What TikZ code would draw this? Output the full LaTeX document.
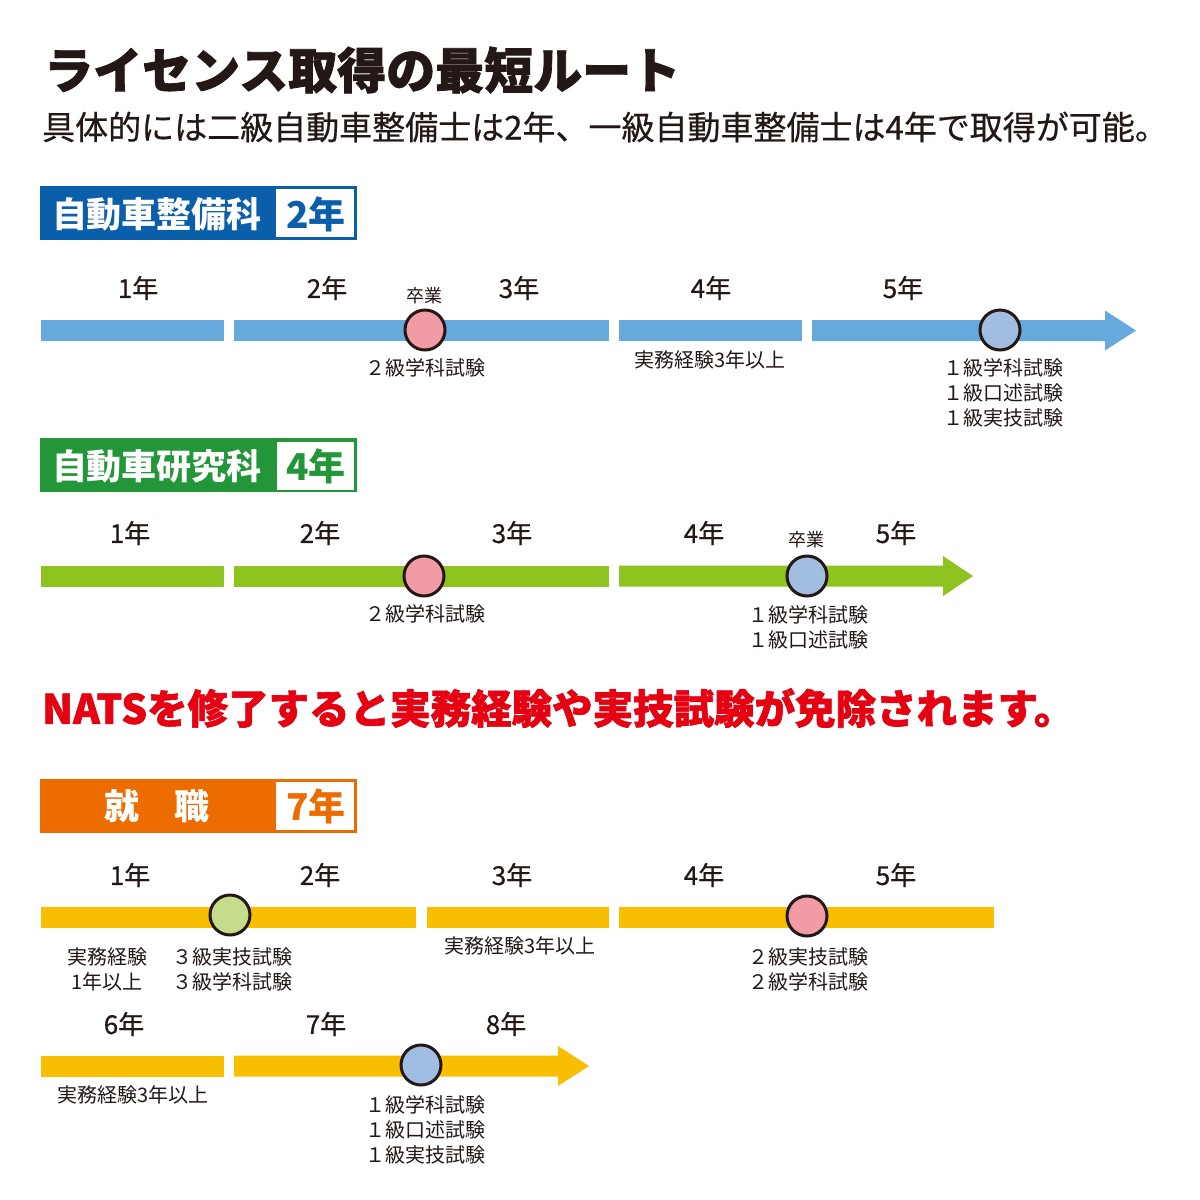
\documentclass[tikz,border=0pt]{standalone}
\usepackage{fontspec}
\setmainfont{Noto Sans CJK JP}
\newfontfamily\heavyfont{Noto Sans CJK JP}[BoldFeatures={FakeBold=1.6}]
\newfontfamily\medfont{Noto Sans CJK JP}[FakeBold=0.5]
\definecolor{ink}{HTML}{231815}
\definecolor{hblue}{HTML}{0B5EAA}
\definecolor{barblue}{HTML}{65A9DD}
\definecolor{hgreen}{HTML}{229638}
\definecolor{bargreen}{HTML}{8FC31F}
\definecolor{horange}{HTML}{ED6C00}
\definecolor{baryellow}{HTML}{F8BF00}
\definecolor{cpink}{HTML}{F19CA5}
\definecolor{clblue}{HTML}{A2BDE2}
\definecolor{clgreen}{HTML}{C5DD8A}
\definecolor{cred}{HTML}{E50012}
\newcommand\mybar[4]{\fill[#1] (#2,#4-10.5) rectangle (#3,#4+10.5);}
\newcommand\myarrow[5]{\fill[#1] (#2,#5-10.5) -- (#3,#5-10.5) -- (#3,#5-20) -- (#4,#5) -- (#3,#5+20) -- (#3,#5+10.5) -- (#2,#5+10.5) -- cycle;}
\begin{document}
\begin{tikzpicture}[x=1pt,y=-1pt,
 every node/.style={inner sep=0pt, text=ink},
 yr/.style={font=\medfont\fontsize{26}{26}\selectfont},
 lbl/.style={font=\fontsize{20}{25}\selectfont, align=center},
 grad/.style={font=\fontsize{18}{18}\selectfont},
 exam/.style={circle, draw=ink, line width=3pt, minimum size=40pt},
 hdr/.style={text=white, font=\fontsize{35}{35}\selectfont\bfseries},
 hyr/.style={font=\fontsize{37}{37}\selectfont\bfseries},
]
\useasboundingbox (0,0) rectangle (1200,1200);
\fill[white] (0,0) rectangle (1200,1200);

% titles
\node[anchor=west, font=\heavyfont\bfseries\fontsize{49}{49}\selectfont] (title) at (44,70) {ライセンス取得の最短ルート};
\node[anchor=west, font=\medfont\fontsize{33}{33}\selectfont] (sub) at (42,127) {具体的には二級自動車整備士は2年、一級自動車整備士は4年で取得が可能。};

% ===== section 1: blue =====
\fill[hblue] (40,186) rectangle (357,240);
\fill[white] (276,189) rectangle (354,237);
\node[hdr] (h1) at (157,214) {自動車整備科};
\node[hyr, text=hblue] (h1y) at (316,214) {2年};

\mybar{barblue}{41}{224}{330.5}
\mybar{barblue}{234}{609}{330.5}
\mybar{barblue}{619}{802}{330.5}
\myarrow{barblue}{812}{1105}{1136}{330.5}
\node[exam, fill=cpink] (b2) at (425,330) {};
\node[exam, fill=clblue] (b1) at (1000,330) {};
\node[yr] (by1) at (138,288) {1年};
\node[yr] (by2) at (327,288) {2年};
\node[yr] (by3) at (519,288) {3年};
\node[yr] (by4) at (711,288) {4年};
\node[yr] (by5) at (903,288) {5年};
\node[grad] (bg) at (424,296) {卒業};
\node[lbl] (bl1) at (425,368) {２級学科試験};
\node[lbl] (bl2) at (710,360) {実務経験3年以上};
\node[lbl] (bl3) at (1003,393) {１級学科試験\\１級口述試験\\１級実技試験};

% ===== section 2: green =====
\fill[hgreen] (40,438) rectangle (357,492);
\fill[white] (277,442) rectangle (354,490);
\node[hdr] (h2) at (157,466) {自動車研究科};
\node[hyr, text=hgreen] (h2y) at (316,466) {4年};

\mybar{bargreen}{41}{224}{576}
\mybar{bargreen}{234}{609}{576}
\myarrow{bargreen}{619}{943}{973}{576}
\node[exam, fill=cpink] (g2) at (424,576) {};
\node[exam, fill=clblue] (g1) at (807,576) {};
\node[yr] (gy1) at (130,533) {1年};
\node[yr] (gy2) at (320,533) {2年};
\node[yr] (gy3) at (512,533) {3年};
\node[yr] (gy4) at (704,533) {4年};
\node[yr] (gy5) at (896,533) {5年};
\node[grad] (gg) at (806,540) {卒業};
\node[lbl] (gl1) at (425,614) {２級学科試験};
\node[lbl] (gl2) at (808,627) {１級学科試験\\１級口述試験};

% ===== red note =====
\node[anchor=west, text=cred, font=\heavyfont\bfseries\fontsize{40.5}{40.5}\selectfont] (note) at (42,708) {NATSを修了すると実務経験や実技試験が免除されます。};

% ===== section 3: orange =====
\fill[horange] (40,779) rectangle (357,833);
\fill[white] (276,782) rectangle (354,830);
\node[hdr] (h3) at (157,806) {就　職};
\node[hyr, text=horange] (h3y) at (316,806) {7年};

\mybar{baryellow}{41}{416}{917}
\mybar{baryellow}{427}{609}{917}
\mybar{baryellow}{619}{994}{917}
\node[exam, fill=clgreen] (y3) at (230,915) {};
\node[exam, fill=cpink] (y2) at (807,916) {};
\node[yr] (yy1) at (130,875) {1年};
\node[yr] (yy2) at (320,875) {2年};
\node[yr] (yy3) at (512,875) {3年};
\node[yr] (yy4) at (704,875) {4年};
\node[yr] (yy5) at (896,875) {5年};
\node[lbl] (yl1) at (107,969) {実務経験\\1年以上};
\node[lbl] (yl2) at (232,969) {３級実技試験\\３級学科試験};
\node[lbl] (yl3) at (520,946) {実務経験3年以上};
\node[lbl] (yl4) at (808,969) {２級実技試験\\２級学科試験};

\mybar{baryellow}{41}{224}{1066}
\myarrow{baryellow}{234}{558}{589}{1066}
\node[exam, fill=clblue] (y1) at (421,1065) {};
\node[yr] (yy6) at (124,1024) {6年};
\node[yr] (yy7) at (326,1024) {7年};
\node[yr] (yy8) at (506,1024) {8年};
\node[lbl] (yl5) at (133,1095) {実務経験3年以上};
\node[lbl] (yl6) at (425,1130) {１級学科試験\\１級口述試験\\１級実技試験};
\end{tikzpicture}
\end{document}
